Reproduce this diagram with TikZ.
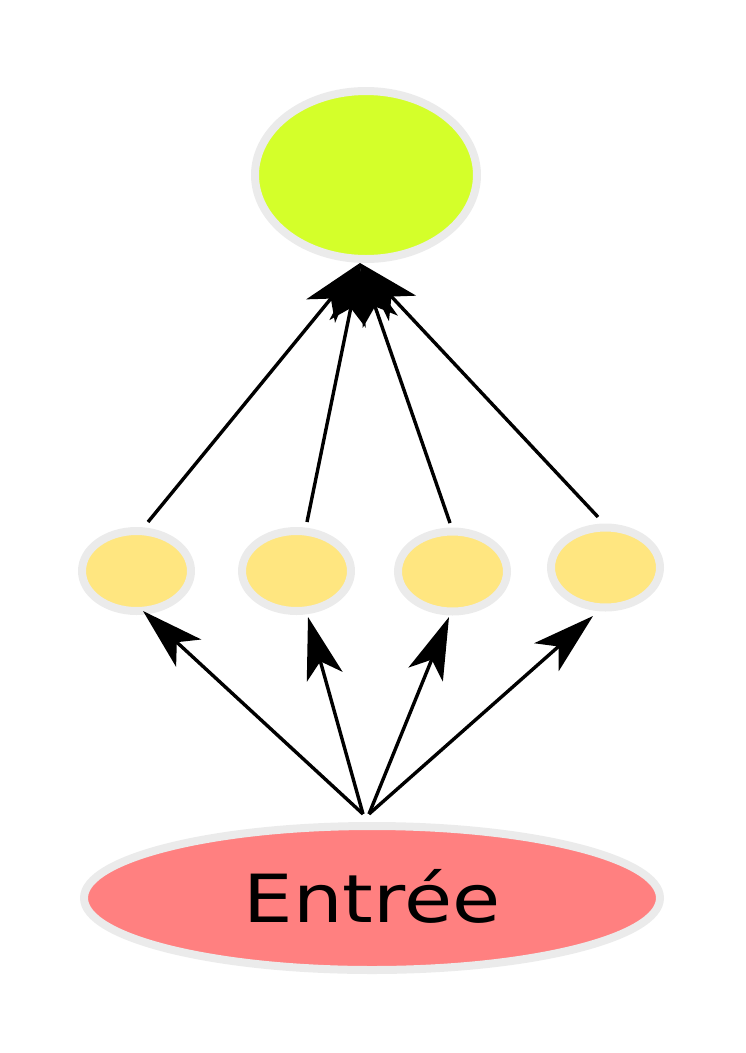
\documentclass[tikz,border=0pt]{standalone}
\usepackage{xcolor}
\usepackage{fontspec}
\usepackage{tikz}
\usetikzlibrary{positioning,arrows.meta,shapes.geometric}
\newfontfamily\labelfont[FakeStretch=1.18]{DejaVu Sans}
\definecolor{ringgrey}{HTML}{EBEBEB}
\definecolor{limefill}{HTML}{D4FF2A}
\definecolor{sandfill}{HTML}{FFE680}
\definecolor{salmonfill}{HTML}{FF8080}

\begin{document}
\begin{tikzpicture}[x=1pt, y=-1pt,
  blob/.style={ellipse, draw=ringgrey, line width=8pt, inner sep=0pt},
  hidden/.style={blob, fill=sandfill, minimum width=109pt, minimum height=80pt},
  link/.style={line width=3.4pt, -{Stealth[length=62pt, width=37pt, inset=16pt]}}]
\useasboundingbox (0,0) rectangle (745,1053);

\node[blob, fill=limefill, minimum width=222pt, minimum height=168pt] (sortie) at (366,175) {};

\node[hidden] (cache_1) at (136.5,571) {};
\node[hidden] (cache_2) at (296.5,571) {};
\node[hidden] (cache_3) at (452.5,571.5) {};
\node[hidden] (cache_4) at (605.5,567.5) {};

\node[blob, fill=salmonfill, minimum width=576pt, minimum height=144pt,
  font=\labelfont\fontsize{66.4}{80}\selectfont, text height=48.4pt, text depth=0pt] (entree) at (372,898) {Entrée};

\draw[link] ([xshift=11.5pt, yshift=5pt]cache_1.north) -- ([xshift=-6pt]sortie.south);
\draw[link] ([xshift=10.5pt, yshift=5pt]cache_2.north) -- ([xshift=-6pt]sortie.south);
\draw[link] ([xshift=-2.5pt, yshift=4.5pt]cache_3.north) -- ([xshift=-6pt]sortie.south);
\draw[link] ([xshift=-7.5pt, yshift=6.5pt]cache_4.north) -- ([xshift=-6pt]sortie.south);

\draw[link] ([xshift=-9pt, yshift=8pt]entree.north) -- ([xshift=6.5pt, yshift=4pt]cache_1.south);
\draw[link] ([xshift=-9pt, yshift=8pt]entree.north) -- ([xshift=11.5pt, yshift=-2pt]cache_2.south);
\draw[link] ([xshift=-3pt, yshift=8pt]entree.north) -- ([xshift=-3.5pt, yshift=-1.5pt]cache_3.south);
\draw[link] ([xshift=-3pt, yshift=8pt]entree.north) -- ([xshift=-12.5pt, yshift=-4.5pt]cache_4.south);

\end{tikzpicture}
\end{document}
